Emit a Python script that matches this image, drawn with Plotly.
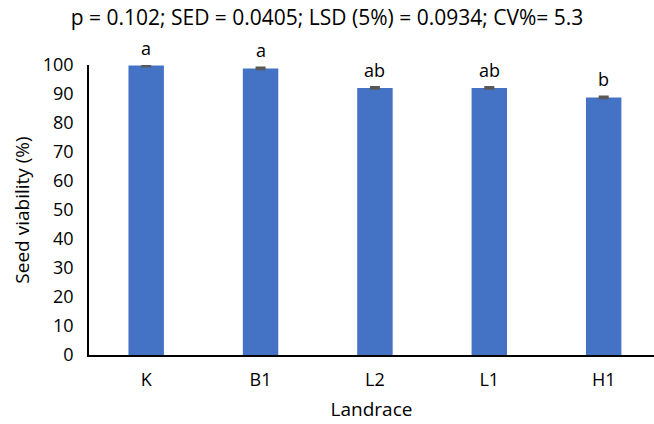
import plotly.graph_objects as go

categories = ["K", "B1", "L2", "L1", "H1"]
viability = [99.8, 98.8, 92.1, 92.1, 88.8]
errors = [0.3, 0.3, 0.3, 0.3, 0.3]
letters = ["a", "a", "ab", "ab", "b"]
y_ticks = [0, 10, 20, 30, 40, 50, 60, 70, 80, 90, 100]
title_text = "p = 0.102; SED = 0.0405; LSD (5%) = 0.0934; CV%= 5.3"

FONT = "Open Sans"

fig = go.Figure()
fig.add_trace(go.Bar(
    x=categories, y=viability,
    marker=dict(color="#4472C4", line=dict(width=0)),
    width=0.31,
    error_y=dict(type="data", array=errors, visible=True, color="#595959", thickness=2, width=5),
))
for c, v, t in zip(categories, viability, letters):
    fig.add_annotation(x=c, y=v, text=t, showarrow=False, yanchor="bottom", yshift=4,
                       font=dict(family=FONT, size=18, color="#000"))

fig.update_layout(
    width=654, height=424,
    margin=dict(l=89, r=0, t=65, b=69),
    paper_bgcolor="white", plot_bgcolor="white",
    showlegend=False,
    title=dict(text=title_text, x=0.5, xanchor="center", y=0.958, yanchor="middle",
               font=dict(family=FONT, size=21, color="#000")),
    font=dict(family=FONT, size=17, color="#000"),
)
fig.update_xaxes(
    range=[-0.5, 4.44], showline=True, linecolor="#000", linewidth=1.5,
    ticks="", showgrid=False, ticklabelstandoff=8,
    title=dict(text="Landrace", font=dict(family=FONT, size=19), standoff=12),
    tickfont=dict(family=FONT, size=18),
)
fig.update_yaxes(
    range=[0, 100], tickvals=y_ticks, showline=True, linecolor="#000", linewidth=1.5,
    ticks="", showgrid=False, zeroline=False, ticklabelstandoff=10,
    title=dict(text="Seed viability (%)", font=dict(family=FONT, size=19), standoff=8),
    tickfont=dict(family=FONT, size=18),
)

fig.write_html("out.html")
